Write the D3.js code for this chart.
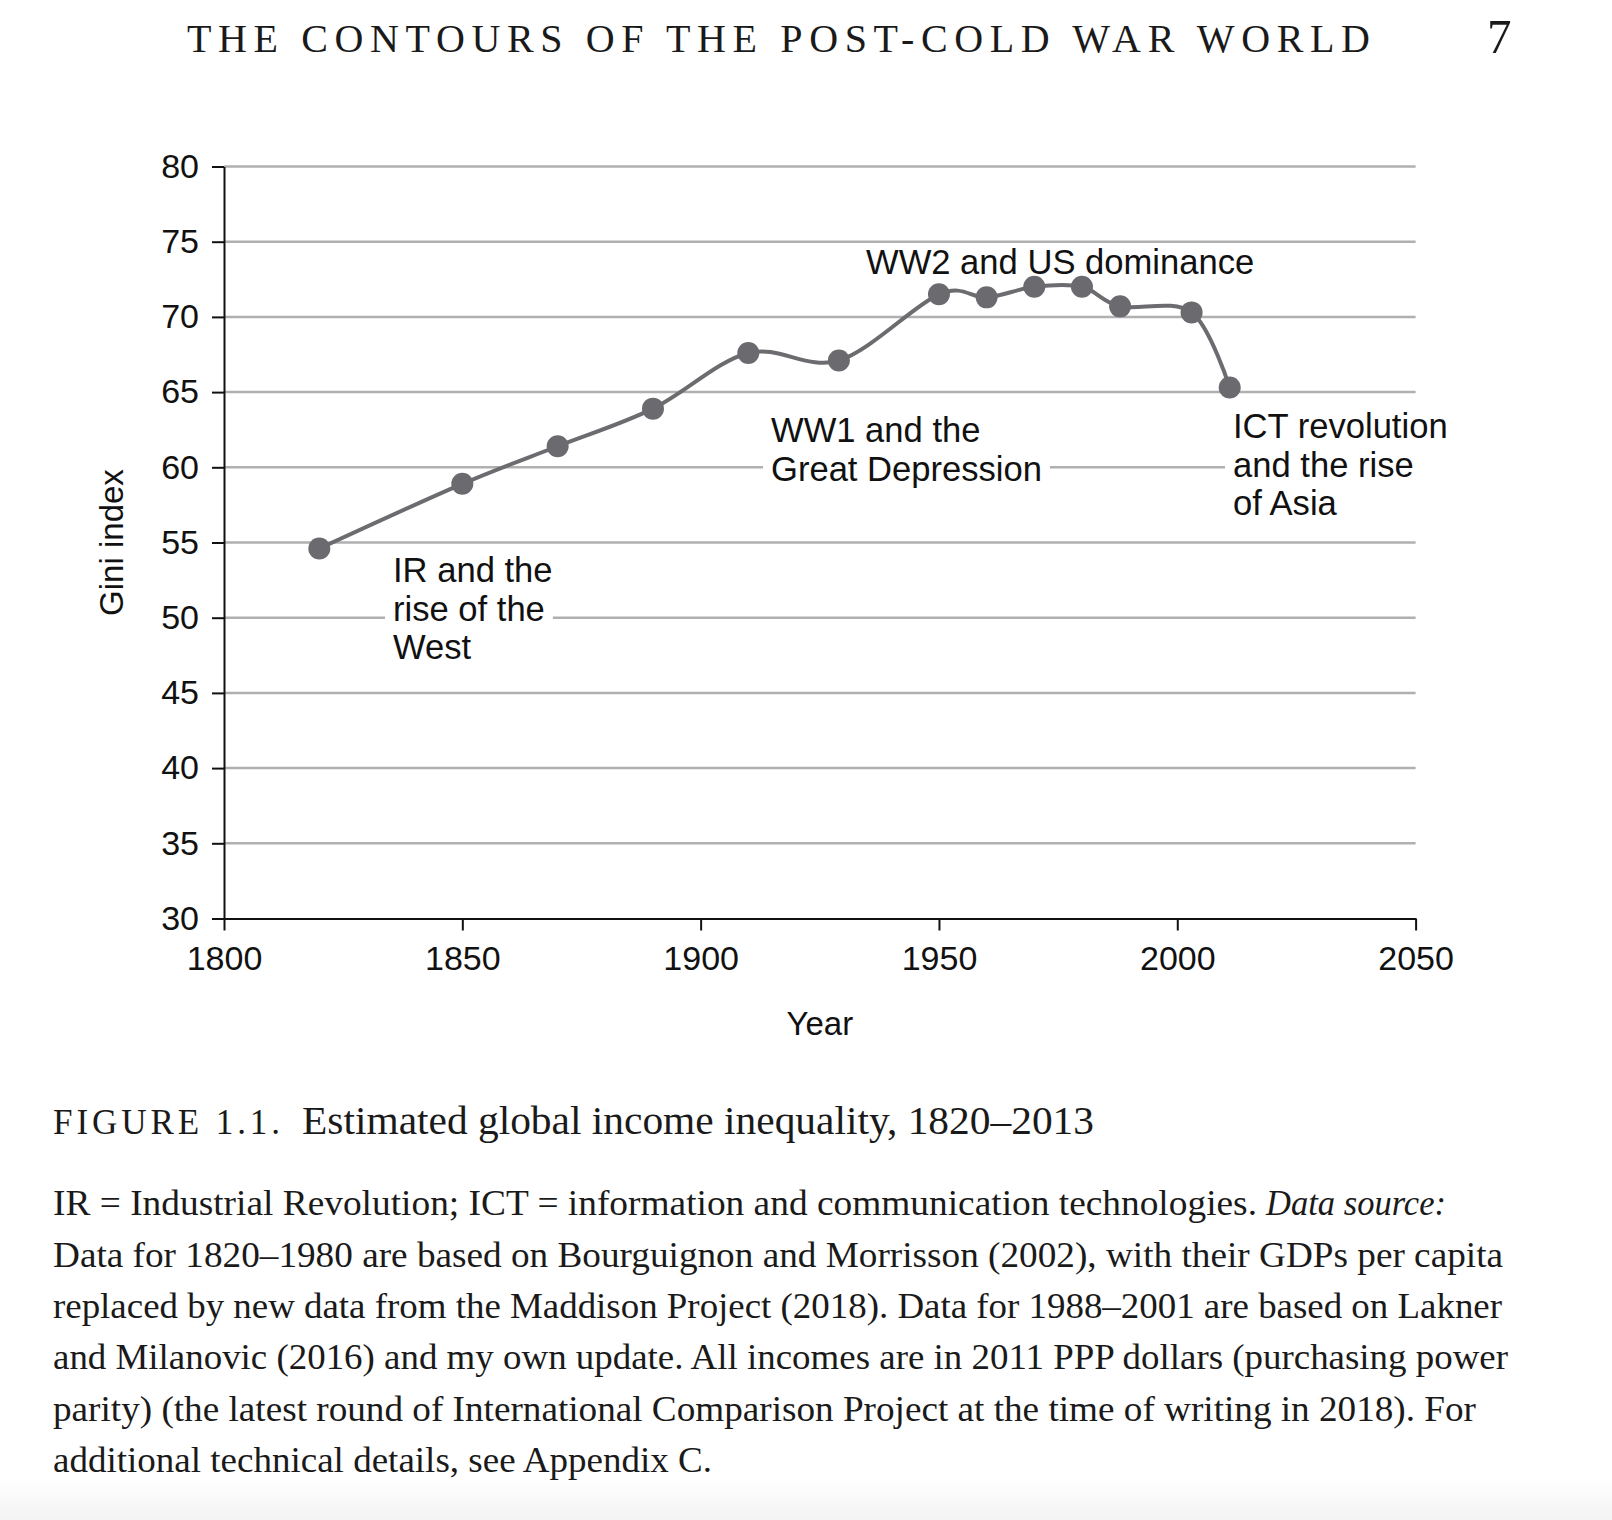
<!DOCTYPE html>
<html lang="en">
<head>
<meta charset="UTF-8">
<title>Estimated global income inequality, 1820–2013</title>
<script src="https://d3js.org/d3.v7.min.js"></script>
<style>
    body { margin: 0; background: #fff; }
    svg { display: block; }
    .sans { font-family: "Liberation Sans", Arial, Helvetica, sans-serif; fill: #111; }
    .serif { font-family: "Liberation Serif", "Times New Roman", serif; fill: #1a1a1a; }
</style>
</head>
<body>
<div id="chart"></div>
<script>
    // data
    const years = [1820, 1850, 1870, 1890, 1910, 1929, 1950, 1960, 1970, 1980, 1988, 2003, 2011];
    const gini = [54.6, 58.9, 61.4, 63.9, 67.6, 67.1, 71.5, 71.3, 72.0, 72.0, 70.7, 70.3, 65.3];
    const xTicks = [1800, 1850, 1900, 1950, 2000, 2050];
    const yTicks = [30, 35, 40, 45, 50, 55, 60, 65, 70, 75, 80];

    const notes = [
        { lines: ['IR and the', 'rise of the', 'West'], x: 393, y: 582 },
        { lines: ['WW1 and the', 'Great Depression'], x: 771, y: 442 },
        { lines: ['WW2 and US dominance'], x: 866, y: 274 },
        { lines: ['ICT revolution', 'and the rise', 'of Asia'], x: 1233, y: 438 }
    ];

    const header = 'THE CONTOURS OF THE POST-COLD WAR WORLD';
    const pageNo = '7';
    const figLabel = 'FIGURE 1.1.';
    const figTitle = 'Estimated global income inequality, 1820–2013';
    const bodyLines = [
        'Data for 1820–1980 are based on Bourguignon and Morrisson (2002), with their GDPs per capita',
        'replaced by new data from the Maddison Project (2018). Data for 1988–2001 are based on Lakner',
        'and Milanovic (2016) and my own update. All incomes are in 2011 PPP dollars (purchasing power',
        'parity) (the latest round of International Comparison Project at the time of writing in 2018). For',
        'additional technical details, see Appendix C.'
    ];
    const bodyWidths = [1450, 1449, 1455, 1423, 659];

    const W = 1612, H = 1520;
    const margin = { top: 166.5, right: 196.4, bottom: 601.5, left: 224 };
    const width = W - margin.left - margin.right;
    const height = H - margin.top - margin.bottom;

    const svg = d3.select('#chart')
        .append('svg')
        .attr('width', W)
        .attr('height', H);

    // faint grey band at bottom of the scanned page
    const grad = svg.append('defs').append('linearGradient')
        .attr('id', 'fade').attr('x1', 0).attr('x2', 0).attr('y1', 0).attr('y2', 1);
    grad.append('stop').attr('offset', 0).attr('stop-color', '#ffffff');
    grad.append('stop').attr('offset', 1).attr('stop-color', '#f3f3f3');
    svg.append('rect').attr('x', 0).attr('y', 1478).attr('width', W).attr('height', 42)
        .attr('fill', 'url(#fade)');

    const g = svg.append('g')
        .attr('transform', `translate(${margin.left}, ${margin.top})`);

    const x = d3.scaleLinear().domain([1800, 2050]).range([0, width]);
    const y = d3.scaleLinear().domain([30, 80]).range([height, 0]);

    // gridlines
    g.append('g')
        .selectAll('line')
        .data(yTicks.filter(d => d > 30))
        .join('line')
        .attr('x1', 0)
        .attr('x2', width)
        .attr('y1', d => y(d))
        .attr('y2', d => y(d))
        .attr('stroke', '#b0b0b0')
        .attr('stroke-width', 2.5);

    // annotations, with white backing so gridlines break around them
    const noteG = g.append('g');
    notes.forEach(n => {
        n.lines.forEach((t, i) => {
            const txt = noteG.append('text')
                .attr('class', 'sans')
                .attr('x', n.x - margin.left)
                .attr('y', n.y - margin.top + i * 38.7)
                .attr('font-size', 34.6)
                .text(t);
            const b = txt.node().getBBox();
            noteG.insert('rect', 'text')
                .attr('x', b.x - 8)
                .attr('y', b.y + 2)
                .attr('width', b.width + 16)
                .attr('height', b.height - 4)
                .attr('fill', '#fff');
        });
    });

    // axes
    const yAxis = g.append('g')
        .call(d3.axisLeft(y).tickValues(yTicks).tickSize(12).tickSizeOuter(0).tickPadding(13));
    const xAxis = g.append('g')
        .attr('transform', `translate(0, ${height})`)
        .call(d3.axisBottom(x).tickValues(xTicks).tickFormat(d3.format('d')).tickSize(12).tickSizeOuter(0).tickPadding(15));

    [yAxis, xAxis].forEach(a => {
        a.selectAll('path, line').attr('stroke', '#111').attr('stroke-width', 2);
        a.selectAll('text')
            .attr('class', 'sans')
            .attr('font-size', 34);
    });

    // axis titles
    g.append('text')
        .attr('class', 'sans')
        .attr('x', width / 2)
        .attr('y', 1035 - margin.top)
        .attr('text-anchor', 'middle')
        .attr('font-size', 33)
        .text('Year');

    g.append('text')
        .attr('class', 'sans')
        .attr('transform', `translate(${123 - margin.left}, ${height / 2}) rotate(-90)`)
        .attr('text-anchor', 'middle')
        .attr('font-size', 33)
        .text('Gini index');

    // the series
    const points = years.map((yr, i) => ({ year: yr, value: gini[i] }));

    const line = d3.line()
        .x(d => x(d.year))
        .y(d => y(d.value))
        .curve(d3.curveCatmullRom.alpha(0));

    g.append('path')
        .datum(points)
        .attr('d', line)
        .attr('fill', 'none')
        .attr('stroke', '#6c6c70')
        .attr('stroke-width', 4);

    g.selectAll('.dot')
        .data(points)
        .join('circle')
        .attr('class', 'dot')
        .attr('cx', d => x(d.year))
        .attr('cy', d => y(d.value))
        .attr('r', 11)
        .attr('fill', '#6a6a6f');

    // page furniture: running head and caption
    svg.append('text')
        .attr('class', 'serif')
        .attr('x', 187)
        .attr('y', 52)
        .attr('font-size', 40)
        .attr('textLength', 1183)
        .attr('lengthAdjust', 'spacing')
        .text(header);

    svg.append('text')
        .attr('class', 'serif')
        .attr('x', 1487)
        .attr('y', 53)
        .attr('font-size', 49)
        .text(pageNo);

    svg.append('text')
        .attr('class', 'serif')
        .attr('x', 53)
        .attr('y', 1134)
        .attr('font-size', 35)
        .attr('textLength', 227)
        .attr('lengthAdjust', 'spacing')
        .text(figLabel);

    svg.append('text')
        .attr('class', 'serif')
        .attr('x', 302)
        .attr('y', 1134)
        .attr('font-size', 40)
        .attr('textLength', 792)
        .attr('lengthAdjust', 'spacingAndGlyphs')
        .text(figTitle);

    svg.append('text')
        .attr('class', 'serif')
        .attr('x', 53)
        .attr('y', 1215)
        .attr('font-size', 35)
        .attr('textLength', 1204)
        .attr('lengthAdjust', 'spacingAndGlyphs')
        .text('IR = Industrial Revolution; ICT = information and communication technologies.');

    svg.append('text')
        .attr('class', 'serif')
        .attr('x', 1266)
        .attr('y', 1215)
        .attr('font-size', 35)
        .attr('font-style', 'italic')
        .attr('textLength', 180)
        .attr('lengthAdjust', 'spacingAndGlyphs')
        .text('Data source:');

    svg.selectAll('.body-line')
        .data(bodyLines)
        .join('text')
        .attr('class', 'serif body-line')
        .attr('x', 53)
        .attr('y', (d, i) => 1266.5 + i * 51.4)
        .attr('font-size', 35)
        .attr('textLength', (d, i) => bodyWidths[i])
        .attr('lengthAdjust', 'spacingAndGlyphs')
        .text(d => d);
</script>
</body>
</html>
